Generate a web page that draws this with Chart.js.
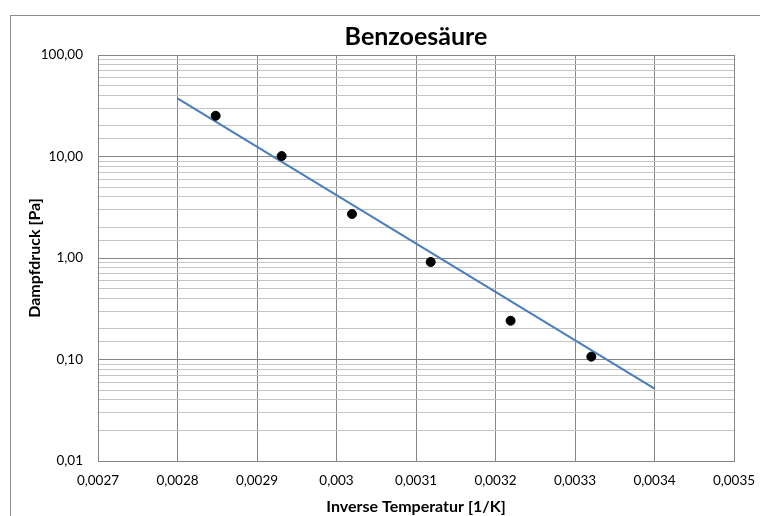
<!DOCTYPE html>
<html>
<head>
<meta charset="utf-8">
<script src="https://cdn.jsdelivr.net/npm/chart.js@4"></script>
<style>
    body { margin: 0; background: #fff; }
    #wrap { position: relative; width: 760px; height: 516px; overflow: hidden; }
    #frame { position: absolute; left: 10px; top: 15px; width: 800px; height: 600px; border: 1px solid #8c8c8c; }
    canvas { position: absolute; left: 0; top: 0; }
</style>
</head>
<body>
<div id="wrap">
    <div id="frame"></div>
    <canvas id="chart" width="760" height="516"></canvas>
</div>
<script>
// Messwerte (inverse Temperatur, Dampfdruck)
const inverseTemp = [0.002848, 0.002931, 0.0030195, 0.0031185, 0.003219, 0.0033205];
const pressure = [25.2, 10.1, 2.71, 0.914, 0.241, 0.1066];

// Trendlinie (Endpunkte)
const trendX = [0.0028, 0.0034];
const trendY = [37.4, 0.0516];

const xTickLabels = ['0,0027', '0,0028', '0,0029', '0,003', '0,0031', '0,0032', '0,0033', '0,0034', '0,0035'];
const yTickLabels = ['0,01', '0,10', '1,00', '10,00', '100,00'];

const fontFamily = 'Lato, "Open Sans", sans-serif';

const isDecade = (v) => Math.abs(Math.log10(v) - Math.round(Math.log10(v))) < 1e-6;

const ctx = document.getElementById('chart').getContext('2d');
const chart = new Chart(ctx, {
    data: {
        datasets: [{
            type: 'scatter',
            label: 'Messwerte',
            data: inverseTemp.map((x, i) => ({ x: x, y: pressure[i] })),
            backgroundColor: '#000',
            borderColor: '#000',
            pointRadius: 4.5,
            pointHoverRadius: 4.5
        }, {
            type: 'line',
            label: 'Trend',
            data: trendX.map((x, i) => ({ x: x, y: trendY[i] })),
            borderColor: '#4a7ebb',
            borderWidth: 2,
            pointRadius: 0,
            fill: false
        }]
    },
    options: {
        responsive: false,
        animation: false,
        layout: {
            padding: { top: 0, left: 10, right: 26, bottom: 0 }
        },
        plugins: {
            legend: { display: false },
            tooltip: { enabled: false },
            title: {
                display: true,
                text: 'Benzoesäure',
                fullSize: false,
                color: '#000',
                font: { family: fontFamily, size: 25, weight: 'bold', lineHeight: 1.2 },
                padding: { top: 22, bottom: 3 }
            }
        },
        scales: {
            x: {
                type: 'linear',
                min: 0.0027,
                max: 0.0035,
                afterBuildTicks: (scale) => {
                    scale.ticks = xTickLabels.map((l, i) => ({ value: 0.0027 + i * 0.0001 }));
                },
                afterFit: (scale) => {
                    scale.height = 55;
                    scale.paddingLeft = 0;
                    scale.paddingRight = 0;
                },
                grid: { color: '#868686', drawTicks: false },
                border: { color: '#868686' },
                ticks: {
                    padding: 12,
                    color: '#000',
                    maxRotation: 0,
                    font: { family: fontFamily, size: 13.5 },
                    callback: (v, i) => xTickLabels[i]
                },
                title: {
                    display: true,
                    text: 'Inverse Temperatur [1/K]',
                    color: '#000',
                    font: { family: fontFamily, size: 16, weight: 'bold', lineHeight: 1.2 },
                    padding: { top: 0, bottom: 0 }
                }
            },
            y: {
                type: 'logarithmic',
                min: 0.01,
                max: 100,
                afterFit: (scale) => { scale.width = 88; },
                grid: {
                    drawTicks: false,
                    color: (c) => (c.tick && isDecade(c.tick.value)) ? '#868686' : '#c4c4c4'
                },
                border: { color: '#868686' },
                ticks: {
                    autoSkip: false,
                    padding: 15,
                    color: '#000',
                    font: { family: fontFamily, size: 13.5 },
                    callback: (v) => isDecade(v) ? yTickLabels[Math.round(Math.log10(v)) + 2] : ''
                },
                title: {
                    display: true,
                    text: 'Dampfdruck [Pa]',
                    color: '#000',
                    font: { family: fontFamily, size: 16, weight: 'bold', lineHeight: 1.2 },
                    padding: { top: 15, bottom: 0 }
                }
            }
        }
    }
});
</script>
</body>
</html>
